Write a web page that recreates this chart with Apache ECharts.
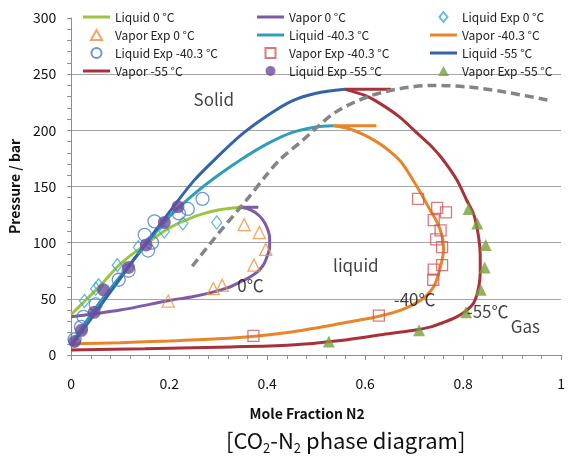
<!DOCTYPE html>
<html>
<head>
<meta charset="utf-8">
<title>CO2-N2 phase diagram</title>
<script src="https://cdn.jsdelivr.net/npm/echarts@6/dist/echarts.min.js"></script>
<style>
  html, body { margin: 0; padding: 0; background: #ffffff; }
  #main { width: 568px; height: 461px; }
</style>
</head>
<body>
<div id="main"></div>
<script>
// 곡선 데이터 (x = N2 몰분율, y = 압력 bar)
var liquid0 = [[0, 36], [0.03, 49], [0.06, 62], [0.1, 81], [0.15, 98], [0.2, 113], [0.25, 123], [0.3, 129], [0.345, 131.5]];
var vapor0 = [[0, 34], [0.1, 40], [0.2, 48.5], [0.25, 52], [0.285, 55.5], [0.32, 60], [0.345, 65], [0.365, 69.5], [0.38, 74], [0.392, 80], [0.4, 88], [0.405, 96], [0.405, 104], [0.4, 113], [0.39, 121], [0.375, 127], [0.358, 130.5], [0.342, 131.5]];
var vapor0Tail = [[0.342, 131.5], [0.382, 131.5]];
var liquid40 = [[0, 10], [0.05, 42], [0.1, 70], [0.15, 97], [0.2, 123], [0.25, 143], [0.3, 160], [0.35, 175], [0.4, 188], [0.45, 198], [0.5, 203], [0.535, 204]];
var vapor40 = [[0, 10], [0.1, 11], [0.2, 12.5], [0.3, 14.5], [0.38, 17], [0.45, 20.5], [0.5, 24], [0.55, 28], [0.6, 32], [0.633, 35], [0.673, 40], [0.714, 49], [0.74, 61], [0.754, 79], [0.76, 95], [0.757, 106], [0.747, 118], [0.73, 131], [0.715, 143], [0.7, 154], [0.673, 172], [0.64, 185], [0.607, 194], [0.57, 201], [0.535, 204]];
var vapor40Tail = [[0.535, 204], [0.623, 204]];
var liquid55 = [[0, 8], [0.05, 38], [0.1, 68], [0.15, 98], [0.2, 127], [0.25, 155], [0.3, 177], [0.35, 197], [0.4, 213], [0.45, 226], [0.5, 233], [0.559, 236.5]];
var vapor55 = [[0, 4.5], [0.15, 5.5], [0.3, 7], [0.45, 9], [0.55, 13], [0.633, 18], [0.7, 22], [0.734, 25], [0.76, 29], [0.787, 34], [0.805, 39], [0.821, 46], [0.829, 55], [0.834, 67], [0.835, 80], [0.834, 96], [0.829, 112], [0.821, 126], [0.807, 138], [0.787, 156], [0.755, 176], [0.73, 188], [0.7, 200], [0.67, 212], [0.63, 224], [0.6, 231], [0.559, 236.5]];
var vapor55Tail = [[0.559, 236.5], [0.653, 236.5]];
var boundary = [[0.247, 79], [0.3, 108], [0.358, 138], [0.4, 161], [0.425, 173.5], [0.472, 191], [0.539, 216], [0.606, 230], [0.673, 237.3], [0.74, 240], [0.807, 238.7], [0.874, 235], [0.972, 227]];

// 실험 데이터
var liquidExp0 = [[0.027, 48], [0.05, 59], [0.056, 62], [0.094, 80], [0.137, 96], [0.19, 110], [0.228, 117], [0.297, 118]];
var vaporExp0 = [[0.198, 48], [0.29, 59], [0.308, 62], [0.373, 80], [0.397, 94], [0.384, 109], [0.353, 116]];
var liquidExp40 = [[0.007, 14], [0.02, 25], [0.025, 34], [0.05, 45], [0.097, 67], [0.117, 75], [0.157, 93], [0.165, 100], [0.15, 107], [0.17, 119], [0.22, 126], [0.238, 130], [0.268, 139]];
var vaporExp40 = [[0.372, 17], [0.628, 35], [0.739, 67], [0.74, 76], [0.757, 80], [0.757, 96], [0.745, 103], [0.754, 111], [0.74, 120], [0.765, 127], [0.747, 131], [0.708, 139]];
var liquidExp55 = [[0.007, 12], [0.021, 22], [0.047, 38], [0.066, 58], [0.117, 78], [0.153, 98], [0.19, 118], [0.218, 132]];
var vaporExp55 = [[0.526, 12], [0.71, 22], [0.806, 38], [0.836, 58], [0.844, 78], [0.846, 98], [0.829, 117], [0.811, 130]];

// 영역 표시 글자
var notes = [
  { name: 'Solid', value: [0.291, 227] },
  { name: 'liquid', value: [0.581, 80] },
  { name: '0℃', value: [0.366, 62] },
  { name: '-40℃', value: [0.701, 49] },
  { name: '-55℃', value: [0.85, 39] },
  { name: 'Gas', value: [0.927, 25] }
];

var FONT = '"Noto Sans CJK KR", "Noto Sans", sans-serif';

// 범례 아이콘 (비율 유지용 path)
var ICON_LINE = 'path://M0,0H27V3H0Z';
var ICON_TRI = 'path://M5,0L10,9L0,9Z';
var ICON_DIAMOND = 'path://M4,0L8,5L4,10L0,5Z';
var ICON_RECT = 'path://M0,0H9V9H0Z';

var chart = echarts.init(document.getElementById('main'));

function lineSeries(name, data, color) {
  return {
    name: name,
    type: 'line',
    data: data,
    smooth: 0.3,
    symbol: 'none',
    lineStyle: { color: color, width: 3 },
    itemStyle: { color: color },
    z: 2
  };
}

function expSeries(name, data, symbol, size, color, filled) {
  return {
    name: name,
    type: 'scatter',
    data: data,
    symbol: symbol,
    symbolSize: size,
    itemStyle: filled
      ? { color: color }
      : { color: 'rgba(255,255,255,0)', borderColor: color, borderWidth: 1.3 },
    z: 4
  };
}

function legendCol(left, items) {
  return {
    orient: 'vertical',
    left: left,
    top: 6,
    itemWidth: 27,
    itemHeight: 10,
    itemGap: 6,
    selectedMode: false,
    textStyle: { fontFamily: FONT, fontSize: 12, color: '#222' },
    data: items.map(function (it) { return { name: it[0], icon: it[1] }; })
  };
}

var option = {
  backgroundColor: '#ffffff',
  animation: false,
  grid: { left: 65, right: 5, top: 18, bottom: 106 },
  legend: [
    legendCol(78, [['Liquid 0 °C', ICON_LINE], ['Vapor Exp 0 °C', ICON_TRI], ['Liquid Exp -40.3 °C', 'circle'], ['Vapor -55 °C', ICON_LINE]]),
    legendCol(252, [['Vapor 0 °C', ICON_LINE], ['Liquid -40.3 °C', ICON_LINE], ['Vapor Exp -40.3 °C', ICON_RECT], ['Liquid Exp -55 °C', 'circle']]),
    legendCol(425, [['Liquid Exp 0 °C', ICON_DIAMOND], ['Vapor -40.3 °C', ICON_LINE], ['Liquid -55 °C', ICON_LINE], ['Vapor Exp -55 °C', ICON_TRI]])
  ],
  xAxis: {
    type: 'value',
    min: 0,
    max: 1,
    interval: 0.2,
    name: 'Mole Fraction N2',
    nameLocation: 'middle',
    nameGap: 52,
    nameTextStyle: { fontFamily: FONT, fontSize: 14, fontWeight: 'bold', color: '#111', padding: [0, 18, 0, 0] },
    axisLine: { lineStyle: { color: '#8c8c8c' } },
    axisTick: { show: true, length: 5, lineStyle: { color: '#8c8c8c' } },
    minorTick: { show: true, splitNumber: 5, length: 4, lineStyle: { color: '#8c8c8c' } },
    axisLabel: { fontFamily: FONT, fontSize: 14, color: '#111', margin: 22 },
    splitLine: { show: false }
  },
  yAxis: {
    type: 'value',
    min: 0,
    max: 300,
    interval: 50,
    name: 'Pressure / bar',
    nameLocation: 'middle',
    nameGap: 43,
    nameTextStyle: { fontFamily: FONT, fontSize: 14, fontWeight: 'bold', color: '#111' },
    axisLine: { show: true, lineStyle: { color: '#8c8c8c' } },
    axisTick: { show: true, length: 4, lineStyle: { color: '#8c8c8c' } },
    minorTick: { show: true, splitNumber: 5, length: 4, lineStyle: { color: '#8c8c8c' } },
    axisLabel: { fontFamily: FONT, fontSize: 14, color: '#111', margin: 15 },
    splitLine: {
      show: true,
      lineStyle: {
        color: ['#a6a6a6', '#a6a6a6', '#a6a6a6', '#a6a6a6', '#a6a6a6', '#a6a6a6', 'rgba(0,0,0,0)'],
        width: 1
      }
    }
  },
  graphic: [{
    type: 'text',
    left: 226,
    top: 430,
    style: {
      text: '{m|[CO}{sub|2}{m|-N}{sub|2}{m| phase diagram]}',
      font: '22px ' + FONT,
      fill: '#111',
      rich: {
        m: { fontSize: 22, fontFamily: FONT, lineHeight: 28, verticalAlign: 'middle', fill: '#111' },
        sub: { fontSize: 13, fontFamily: FONT, lineHeight: 10, verticalAlign: 'bottom', fill: '#111' }
      }
    }
  }],
  series: [
    lineSeries('Liquid 0 °C', liquid0, '#9BC53D'),
    lineSeries('Vapor 0 °C', vapor0, '#7D5BA6'),
    lineSeries('Vapor 0 °C', vapor0Tail, '#7D5BA6'),
    expSeries('Liquid Exp 0 °C', liquidExp0, 'diamond', [10, 13], '#3FA9D9', false),
    expSeries('Vapor Exp 0 °C', vaporExp0, 'triangle', 12, '#F28E3C', false),
    lineSeries('Liquid -40.3 °C', liquid40, '#2F9FB8'),
    lineSeries('Vapor -40.3 °C', vapor40, '#E8852B'),
    lineSeries('Vapor -40.3 °C', vapor40Tail, '#E8852B'),
    expSeries('Liquid Exp -40.3 °C', liquidExp40, 'circle', 13, '#4A7CC7', false),
    expSeries('Vapor Exp -40.3 °C', vaporExp40, 'rect', 11, '#D0585A', false),
    lineSeries('Liquid -55 °C', liquid55, '#3363AB'),
    lineSeries('Vapor -55 °C', vapor55, '#A8323A'),
    lineSeries('Vapor -55 °C', vapor55Tail, '#A8323A'),
    expSeries('Liquid Exp -55 °C', liquidExp55, 'circle', 13, '#6B4C9A', true),
    expSeries('Vapor Exp -55 °C', vaporExp55, 'triangle', 12, '#77A03C', true),
    {
      name: 'boundary',
      type: 'line',
      data: boundary,
      smooth: 0.3,
      symbol: 'none',
      lineStyle: { color: '#858585', width: 3.5, type: [9, 5] },
      z: 3
    },
    {
      name: 'notes',
      type: 'scatter',
      data: notes,
      symbolSize: 0,
      silent: true,
      label: {
        show: true,
        position: 'inside',
        formatter: '{b}',
        fontFamily: FONT,
        fontSize: 17,
        color: '#111'
      },
      z: 5
    }
  ]
};

chart.setOption(option);
</script>
</body>
</html>
